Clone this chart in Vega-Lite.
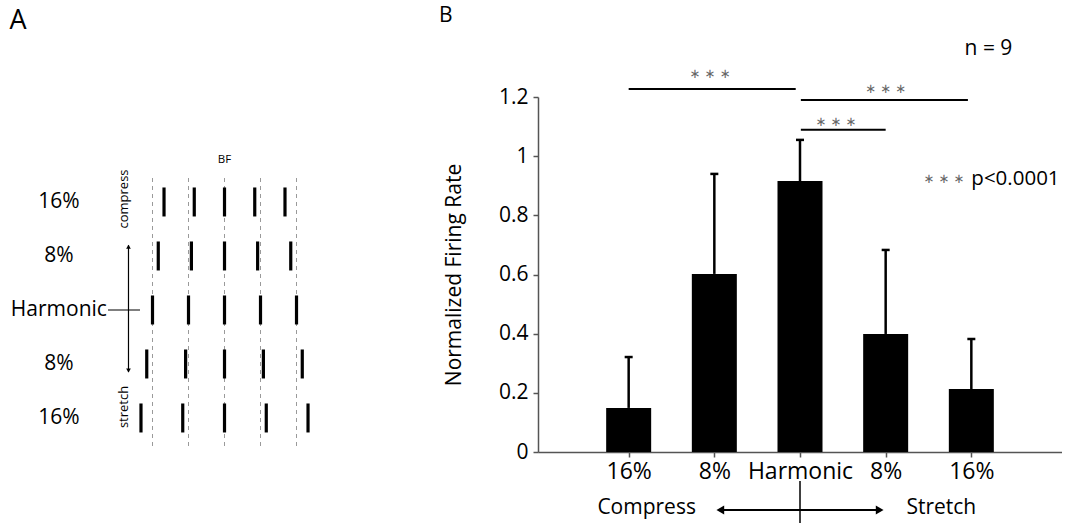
{
  "$schema": "https://vega.github.io/schema/vega-lite/v6.json",
  "background": "white",
  "padding": {"left": 0, "top": 4, "right": 0, "bottom": 0},
  "autosize": {"type": "pad"},
  "spacing": 198,
  "bounds": "flush",
  "config": {"view": {"stroke": null}, "font": "Open Sans", "text": {"font": "Open Sans", "color": "black"}},
  "datasets": {
    "pulses": [
      {"row": 2, "pos": -1.68}, {"row": 2, "pos": -0.84}, {"row": 2, "pos": 0}, {"row": 2, "pos": 0.84}, {"row": 2, "pos": 1.68},
      {"row": 1, "pos": -1.84}, {"row": 1, "pos": -0.92}, {"row": 1, "pos": 0}, {"row": 1, "pos": 0.92}, {"row": 1, "pos": 1.84},
      {"row": 0, "pos": -2}, {"row": 0, "pos": -1}, {"row": 0, "pos": 0}, {"row": 0, "pos": 1}, {"row": 0, "pos": 2},
      {"row": -1, "pos": -2.16}, {"row": -1, "pos": -1.08}, {"row": -1, "pos": 0}, {"row": -1, "pos": 1.08}, {"row": -1, "pos": 2.16},
      {"row": -2, "pos": -2.32}, {"row": -2, "pos": -1.16}, {"row": -2, "pos": 0}, {"row": -2, "pos": 1.16}, {"row": -2, "pos": 2.32}
    ],
    "harm": [{"h": -2}, {"h": -1}, {"h": 0}, {"h": 1}, {"h": 2}],
    "rowlabels": [
      {"row": 2, "label": "16%"}, {"row": 1, "label": "8%"}, {"row": 0, "label": "Harmonic"},
      {"row": -1, "label": "8%"}, {"row": -2, "label": "16%"}
    ],
    "bars": [
      {"pos": 1, "cond": "16%", "rate": 0.149, "upper": 0.321},
      {"pos": 2, "cond": "8%", "rate": 0.602, "upper": 0.94},
      {"pos": 3, "cond": "Harmonic", "rate": 0.916, "upper": 1.055},
      {"pos": 4, "cond": "8%", "rate": 0.399, "upper": 0.683},
      {"pos": 5, "cond": "16%", "rate": 0.213, "upper": 0.382}
    ],
    "sig": [
      {"x1": 1.0, "x2": 2.95, "y": 1.227, "sx": 1.95, "sy": 1.278},
      {"x1": 3.01, "x2": 4.96, "y": 1.19, "sx": 4.0, "sy": 1.227},
      {"x1": 3.01, "x2": 4.0, "y": 1.089, "sx": 3.42, "sy": 1.116}
    ],
    "one": [{}]
  },
  "hconcat": [
    {
      "width": 340,
      "height": 355,
      "layer": [
        {
          "data": {"name": "harm"},
          "mark": {"type": "rule", "strokeDash": [4, 4], "color": "#9a9a9a", "strokeWidth": 1},
          "encoding": {
            "x": {"field": "h", "type": "quantitative", "scale": {"domain": [-6.236, 3.208], "nice": false, "zero": false}, "axis": null},
            "y": {"datum": 2.444, "type": "quantitative", "scale": {"domain": [-2.63, 3.944], "nice": false, "zero": false}, "axis": null},
            "y2": {"datum": -2.556}
          }
        },
        {
          "data": {"name": "pulses"},
          "mark": {"type": "tick", "orient": "vertical", "size": 29, "thickness": 3.2, "color": "black", "opacity": 1},
          "encoding": {
            "x": {"field": "pos", "type": "quantitative"},
            "y": {"field": "row", "type": "quantitative"}
          }
        },
        {
          "data": {"name": "rowlabels"},
          "mark": {"type": "text", "fontSize": 21, "align": "center", "baseline": "middle"},
          "encoding": {
            "x": {"datum": -4.6, "type": "quantitative"},
            "y": {"field": "row", "type": "quantitative"},
            "text": {"field": "label"}
          }
        },
        {
          "data": {"name": "one"},
          "mark": {"type": "rule", "color": "black", "strokeWidth": 1.2},
          "encoding": {"x": {"datum": -3.236, "type": "quantitative"}, "x2": {"datum": -2.347}, "y": {"datum": 0, "type": "quantitative"}}
        },
        {
          "data": {"name": "one"},
          "mark": {"type": "rule", "color": "black", "strokeWidth": 1.2},
          "encoding": {"x": {"datum": -2.667, "type": "quantitative"}, "y": {"datum": 1.2, "type": "quantitative"}, "y2": {"datum": -1.15}}
        },
        {
          "data": {"name": "one"},
          "mark": {"type": "point", "shape": "triangle-up", "filled": true, "color": "black", "size": 22, "opacity": 1},
          "encoding": {"x": {"datum": -2.667, "type": "quantitative"}, "y": {"datum": 1.17, "type": "quantitative"}}
        },
        {
          "data": {"name": "one"},
          "mark": {"type": "point", "shape": "triangle-down", "filled": true, "color": "black", "size": 22, "opacity": 1},
          "encoding": {"x": {"datum": -2.667, "type": "quantitative"}, "y": {"datum": -1.12, "type": "quantitative"}}
        },
        {
          "data": {"name": "one"},
          "mark": {"type": "text", "text": "compress", "angle": 270, "fontSize": 13, "align": "center", "baseline": "middle"},
          "encoding": {"x": {"datum": -2.792, "type": "quantitative"}, "y": {"datum": 2.055, "type": "quantitative"}}
        },
        {
          "data": {"name": "one"},
          "mark": {"type": "text", "text": "stretch", "angle": 270, "fontSize": 13, "align": "center", "baseline": "middle"},
          "encoding": {"x": {"datum": -2.792, "type": "quantitative"}, "y": {"datum": -1.796, "type": "quantitative"}}
        },
        {
          "data": {"name": "one"},
          "mark": {"type": "text", "text": "BF", "fontSize": 11.5, "align": "center", "baseline": "middle"},
          "encoding": {"x": {"datum": 0, "type": "quantitative"}, "y": {"datum": 2.778, "type": "quantitative"}}
        },
        {
          "data": {"name": "one"},
          "mark": {"type": "text", "text": "A", "fontSize": 27, "align": "center", "baseline": "middle"},
          "encoding": {"x": {"datum": -5.736, "type": "quantitative"}, "y": {"datum": 5.36, "type": "quantitative"}}
        }
      ]
    },
    {
      "width": 524,
      "height": 355,
      "layer": [
        {
          "data": {"name": "bars"},
          "mark": {"type": "bar", "orient": "vertical", "size": 45, "color": "black"},
          "encoding": {
            "x": {
              "field": "pos", "type": "quantitative",
              "scale": {"domain": [0, 6], "nice": false, "zero": false},
              "axis": {
                "values": [1, 2, 3, 4, 5],
                "labelExpr": "['','16%','8%','Harmonic','8%','16%'][datum.value]",
                "title": null, "grid": false, "labelFontSize": 23, "labelColor": "black",
                "labelPadding": 3, "tickSize": 5, "tickColor": "#555", "domainColor": "#555",
                "domainWidth": 1.5, "tickWidth": 1.5, "labelFont": "Open Sans"
              }
            },
            "y": {
              "field": "rate", "type": "quantitative",
              "scale": {"domain": [0, 1.2], "nice": false},
              "axis": {
                "values": [0, 0.2, 0.4, 0.6, 0.8, 1, 1.2], "format": "~g",
                "title": "Normalized Firing Rate", "titleFontSize": 21, "titleFontWeight": "normal",
                "titleColor": "black", "titlePadding": 34, "titleFont": "Open Sans",
                "grid": false, "labelFontSize": 21, "labelColor": "black", "labelPadding": 5,
                "tickSize": 5, "tickColor": "#555", "domainColor": "#555", "domainWidth": 1.5,
                "tickWidth": 1.5, "labelFont": "Open Sans"
              }
            }
          }
        },
        {
          "data": {"name": "bars"},
          "mark": {"type": "rule", "color": "black", "strokeWidth": 2.5},
          "encoding": {
            "x": {"field": "pos", "type": "quantitative"},
            "y": {"field": "rate", "type": "quantitative"},
            "y2": {"field": "upper"}
          }
        },
        {
          "data": {"name": "bars"},
          "mark": {"type": "tick", "orient": "horizontal", "size": 8, "thickness": 2.5, "color": "black", "opacity": 1},
          "encoding": {
            "x": {"field": "pos", "type": "quantitative"},
            "y": {"field": "upper", "type": "quantitative"}
          }
        },
        {
          "data": {"name": "sig"},
          "mark": {"type": "rule", "color": "black", "strokeWidth": 2},
          "encoding": {
            "x": {"field": "x1", "type": "quantitative"},
            "x2": {"field": "x2"},
            "y": {"field": "y", "type": "quantitative"}
          }
        },
        {
          "data": {"name": "sig"},
          "mark": {"type": "text", "text": "∗ ∗ ∗", "font": "DejaVu Sans", "fontSize": 13, "color": "#666", "align": "center", "baseline": "middle"},
          "encoding": {
            "x": {"field": "sx", "type": "quantitative"},
            "y": {"field": "sy", "type": "quantitative"}
          }
        },
        {
          "data": {"name": "one"},
          "mark": {"type": "text", "text": "∗ ∗ ∗", "font": "DejaVu Sans", "fontSize": 13, "color": "#666", "align": "center", "baseline": "middle"},
          "encoding": {"x": {"datum": 4.68, "type": "quantitative"}, "y": {"datum": 0.923, "type": "quantitative"}}
        },
        {
          "data": {"name": "one"},
          "mark": {"type": "text", "text": "p<0.0001", "fontSize": 20.5, "align": "left", "baseline": "middle"},
          "encoding": {"x": {"datum": 5.0, "type": "quantitative"}, "y": {"datum": 0.923, "type": "quantitative"}}
        },
        {
          "data": {"name": "one"},
          "mark": {"type": "text", "text": "n = 9", "fontSize": 21, "align": "center", "baseline": "middle"},
          "encoding": {"x": {"datum": 5.2, "type": "quantitative"}, "y": {"datum": 1.362, "type": "quantitative"}}
        },
        {
          "data": {"name": "one"},
          "mark": {"type": "text", "text": "B", "fontSize": 21, "align": "center", "baseline": "middle"},
          "encoding": {"x": {"datum": -1.134, "type": "quantitative"}, "y": {"datum": 1.474, "type": "quantitative"}}
        },
        {
          "data": {"name": "one"},
          "mark": {"type": "text", "text": "Compress", "fontSize": 21, "align": "center", "baseline": "middle"},
          "encoding": {"x": {"datum": 1.21, "type": "quantitative"}, "y": {"datum": -0.19, "type": "quantitative"}}
        },
        {
          "data": {"name": "one"},
          "mark": {"type": "text", "text": "Stretch", "fontSize": 21, "align": "center", "baseline": "middle"},
          "encoding": {"x": {"datum": 4.65, "type": "quantitative"}, "y": {"datum": -0.19, "type": "quantitative"}}
        },
        {
          "data": {"name": "one"},
          "mark": {"type": "rule", "color": "black", "strokeWidth": 2},
          "encoding": {"x": {"datum": 2.07, "type": "quantitative"}, "x2": {"datum": 3.93}, "y": {"datum": -0.196, "type": "quantitative"}}
        },
        {
          "data": {"name": "one"},
          "mark": {"type": "rule", "color": "black", "strokeWidth": 1.5},
          "encoding": {"x": {"datum": 3, "type": "quantitative"}, "y": {"datum": -0.098, "type": "quantitative"}, "y2": {"datum": -0.24}}
        },
        {
          "data": {"name": "one"},
          "mark": {"type": "point", "shape": "triangle-left", "filled": true, "color": "black", "size": 80, "opacity": 1},
          "encoding": {"x": {"datum": 2.07, "type": "quantitative"}, "y": {"datum": -0.196, "type": "quantitative"}}
        },
        {
          "data": {"name": "one"},
          "mark": {"type": "point", "shape": "triangle-right", "filled": true, "color": "black", "size": 80, "opacity": 1},
          "encoding": {"x": {"datum": 3.93, "type": "quantitative"}, "y": {"datum": -0.196, "type": "quantitative"}}
        }
      ]
    }
  ]
}
